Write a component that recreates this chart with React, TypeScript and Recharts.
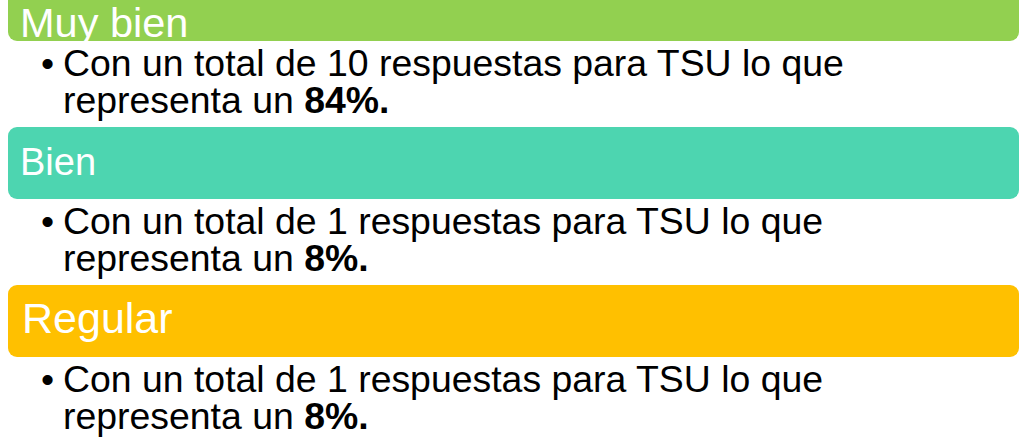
import React from "react";
import { BarChart, Bar, XAxis, YAxis } from "recharts";

// ---- data ----
const categories = ["Muy bien", "Bien", "Regular"];
const responses = [10, 1, 1];
const percents = [84, 8, 8];
const programName = "TSU";

// ---- styles ----
const headerColors = ["#92D050", "#4DD5B0", "#FFC000"];
const headerFontSizes = [41.5, 38, 43];
const headerBaselines = [69, 49, 49];
const headerTextDx = [12, 12, 14];
const FONT = "'Liberation Sans', Arial, Helvetica, sans-serif";
const HEADER_OFFSET = 1;
const HEADER_HEIGHT = 72;
const BODY_SIZE = 37.4;
const LINE1 = 108;
const LINE_GAP = 37;

const data = categories.map((name, i) => ({
  name,
  band: 1,
  count: responses[i],
  pct: percents[i],
}));

const SectionShape = (props: any) => {
  const { x, y, width, index, payload } = props;
  const top = y + HEADER_OFFSET;
  return (
    <g>
      <rect
        x={x}
        y={top}
        width={width}
        height={HEADER_HEIGHT}
        rx={9}
        ry={9}
        fill={headerColors[index]}
      />
      <text
        x={x + headerTextDx[index]}
        y={y + headerBaselines[index]}
        fill="#ffffff"
        fontFamily={FONT}
        fontSize={headerFontSizes[index]}
      >
        {payload.name}
      </text>
      <text y={y + LINE1} fill="#000" fontFamily={FONT} fontSize={BODY_SIZE}>
        <tspan x={41}>•</tspan>
        <tspan x={63}>{`Con un total de ${payload.count} respuestas para ${programName} lo que`}</tspan>
        <tspan x={63} dy={LINE_GAP}>{"representa un "}</tspan>
        <tspan fontWeight="bold">{`${payload.pct}%.`}</tspan>
      </text>
    </g>
  );
};

export default function App() {
  return (
    <div
      style={{
        position: "absolute",
        left: 0,
        top: 0,
        width: 1023,
        height: 442,
        overflow: "hidden",
        background: "#ffffff",
      }}
    >
      <div style={{ position: "absolute", left: 0, top: -32 }}>
        <BarChart
          width={1023}
          height={474}
          data={data}
          layout="vertical"
          barCategoryGap={0}
          margin={{ top: 0, right: 4, bottom: 0, left: 8 }}
        >
          <XAxis type="number" domain={[0, 1]} hide />
          <YAxis type="category" dataKey="name" hide />
          <Bar dataKey="band" isAnimationActive={false} shape={<SectionShape />} />
        </BarChart>
      </div>
    </div>
  );
}
